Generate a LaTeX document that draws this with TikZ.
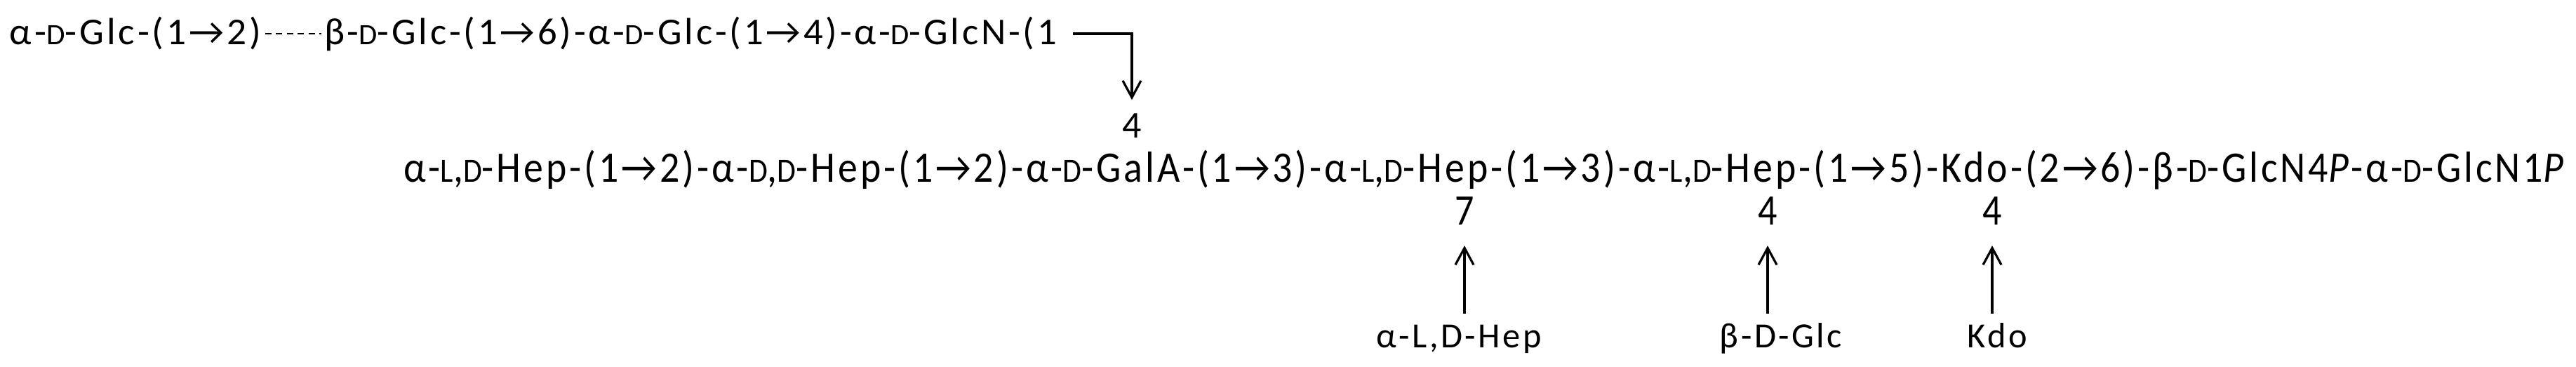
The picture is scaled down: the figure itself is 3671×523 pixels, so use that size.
\documentclass[tikz,border=0pt]{standalone}
\usepackage{fontspec}
\usepackage{graphicx}
\setmainfont{Carlito}[LetterSpace=7.0]
\usetikzlibrary{arrows.meta}
\newcommand\smc[1]{\scalebox{0.78}{#1}}
\newcommand\Fa{\fontsize{13.5pt}{15pt}\selectfont}
\newcommand\Fn{\fontsize{13.5pt}{15pt}\selectfont}
\newcommand\Fc{\fontsize{12.6pt}{14pt}\selectfont}
\newcommand\tallnum[1]{\scalebox{1}[1.15]{#1}}
\begin{document}
\begin{tikzpicture}[x=0.25pt,y=-0.25pt,
  txt/.style={inner sep=0pt, outer sep=0pt},
  lab/.style={txt, font=\Fc, text height=8pt, anchor=base},
  lnk/.style={line width=0.8pt},
  arr/.style={lnk, -{Straight Barb[length=6pt,width=6.5pt,line width=0.8pt]}},
  dashlink/.style={line width=0.6pt, dash pattern=on 2.25pt off 1.6pt}]
\useasboundingbox (0,0) rectangle (3671,523);
% first line
\node[txt, anchor=base west, font=\Fa] (l1a) at (14,64) {\resizebox{89.5pt}{\height}{α-\smc{D}-Glc-(1→2)}};
\node[txt, anchor=base west, font=\Fa] (l1b) at (462,64) {\resizebox{261pt}{\height}{β-\smc{D}-Glc-(1→6)-α-\smc{D}-Glc-(1→4)-α-\smc{D}-GlcN-(1}};
\node[txt, anchor=base, font=\Fn] (top4) at (1613,197) {4};
% main chain
\node[txt, anchor=base west, font=\Fa] (main) at (575,260) {\resizebox{770.5pt}{1.15\height}{α-\smc{L},\smc{D}-Hep-(1→2)-α-\smc{D},\smc{D}-Hep-(1→2)-α-\smc{D}-GalA-(1→3)-α-\smc{L},\smc{D}-Hep-(1→3)-α-\smc{L},\smc{D}-Hep-(1→5)-Kdo-(2→6)-β-\smc{D}-GlcN4\textit{P}-α-\smc{D}-GlcN1\textit{P}}};
% position numbers below
\node[txt, anchor=base, font=\Fa] (n7) at (2087,321) {\tallnum{7}};
\node[txt, anchor=base, font=\Fa] (n4a) at (2519,321) {\tallnum{4}};
\node[txt, anchor=base, font=\Fa] (n4b) at (2839,321) {\tallnum{4}};
% branch residues
\node[lab] (bHep) at (2079,496) {α-L,D-Hep};
\node[lab] (bGlc) at (2538,496) {β-D-Glc};
\node[lab] (bKdo) at (2846,496) {Kdo};
% connectors
\draw[dashlink] ([xshift=1.5pt,yshift=4pt]l1a.base east) -- ([xshift=-1pt,yshift=4pt]l1b.base west);
\draw[arr, shorten >=5pt] ([xshift=5.75pt,yshift=4pt]l1b.base east) -| (top4.north);
\draw[arr, shorten >=7.25pt, shorten <=4.25pt] (bHep.north -| n7.south) -- (n7.south);
\draw[arr, shorten >=7.25pt, shorten <=4.25pt] (bGlc.north -| n4a.south) -- (n4a.south);
\draw[arr, shorten >=7.25pt, shorten <=4.25pt] (bKdo.north -| n4b.south) -- (n4b.south);
\end{tikzpicture}
\end{document}
